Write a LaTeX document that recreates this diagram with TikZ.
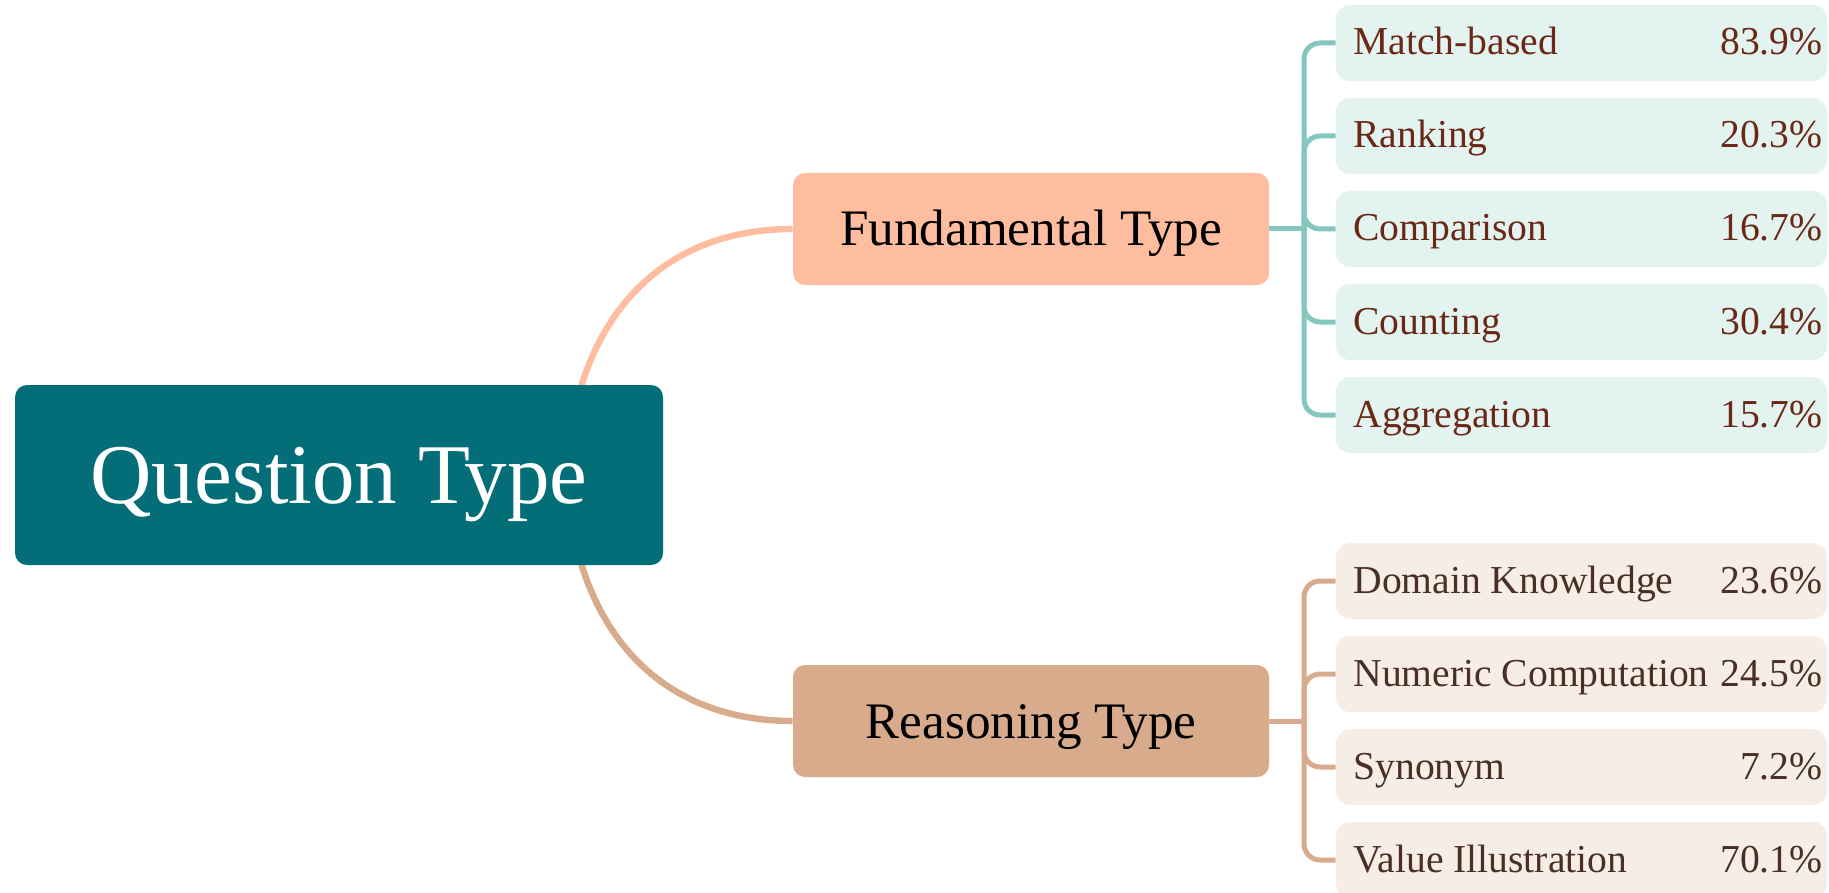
\documentclass[tikz,border=0pt]{standalone}
\usepackage{fontspec}
\setmainfont{Liberation Serif}
\usetikzlibrary{backgrounds}
\definecolor{qteal}{HTML}{046E78}
\definecolor{fundfill}{HTML}{FFBDA0}
\definecolor{reasfill}{HTML}{D8AB8D}
\definecolor{fundleaf}{HTML}{E3F3EF}
\definecolor{reasleaf}{HTML}{F6EDE6}
\definecolor{fundline}{HTML}{83C7BE}
\definecolor{fundtext}{HTML}{6B2817}
\definecolor{reastext}{HTML}{4A3024}
\begin{document}
\begin{tikzpicture}[x=0.5pt,y=-0.5pt,
  rootbox/.style={fill=qteal, rounded corners=6pt, minimum width=324pt,
    minimum height=90pt, inner sep=0pt},
  roottext/.style={anchor=base, inner sep=0pt, text=white,
    font=\fontsize{42.5}{48}\selectfont},
  branchbox/.style={rounded corners=6pt, minimum width=238pt,
    minimum height=56pt, inner sep=0pt},
  branchtext/.style={anchor=base, inner sep=0pt, text=black,
    font=\fontsize{25.6}{30}\selectfont},
  leafbox/.style={rounded corners=7pt, minimum width=245.5pt,
    minimum height=38pt, inner sep=0pt},
  leaflabel/.style={anchor=base west, inner sep=0pt,
    font=\fontsize{19.8}{23}\selectfont},
  leafpct/.style={anchor=base east, inner sep=0pt,
    font=\fontsize{19.8}{23}\selectfont},
  rootlink/.style={line width=3.2pt},
  stemlink/.style={line width=2.5pt},
  leaflink/.style={line width=2.5pt, rounded corners=8pt}
]
\useasboundingbox (0,0) rectangle (1829,893);
\clip (0,0) rectangle (1829,893);

% root and the two branches, captions set on their baselines
\node[rootbox] (root) at (339,475) {};
\node[roottext] (roott) at (339,503) {Question Type};
\node[branchbox, fill=fundfill] (fund) at (1031,229) {};
\node[branchtext] (fundt) at (1031,246) {Fundamental Type};
\node[branchbox, fill=reasfill] (reas) at (1031,721) {};
\node[branchtext] (reast) at (1031,738) {Reasoning Type};

\coordinate (rtop) at (580,390);
\coordinate (rbot) at (580,560);
\coordinate (ftrunk) at (1304,229);
\coordinate (rtrunk) at (1304,721);

% fundamental leaves
\foreach \n/\y/\lab/\pct in {f1/43/Match-based/83.9,
                              f2/136/Ranking/20.3,
                              f3/229/Comparison/16.7,
                              f4/322/Counting/30.4,
                              f5/415/Aggregation/15.7}{
  \node[leafbox, fill=fundleaf] (\n) at (1581.5,\y) {};
  \node[leaflabel, text=fundtext] (\n l) at (1353,\y+12) {\lab};
  \node[leafpct, text=fundtext] (\n p) at (1823,\y+12) {\pct\%};
}

% reasoning leaves
\foreach \n/\y/\lab/\pct in {r1/581/Domain Knowledge/23.6,
                              r2/674/Numeric Computation/24.5,
                              r3/767/Synonym/7.2,
                              r4/860/Value Illustration/70.1}{
  \node[leafbox, fill=reasleaf] (\n) at (1581.5,\y) {};
  \node[leaflabel, text=reastext] (\n l) at (1353,\y+12) {\lab};
  \node[leafpct, text=reastext] (\n p) at (1823,\y+12) {\pct\%};
}

\begin{pgfonlayer}{background}
  % curved links from the root
  \draw[rootlink, fundfill] (rtop) .. controls (612,283) and (690,229) .. (fund.west);
  \draw[rootlink, reasfill] (rbot) .. controls (612,667) and (690,721) .. (reas.west);
  % stems and elbow links to the leaves
  \draw[stemlink, fundline] (fund.east) -- (ftrunk);
  \draw[stemlink, reasfill] (reas.east) -- (rtrunk);
  \foreach \n in {f1,f2,f3,f4,f5}
    \draw[leaflink, fundline] (ftrunk) |- (\n.west);
  \foreach \n in {r1,r2,r3,r4}
    \draw[leaflink, reasfill] (rtrunk) |- (\n.west);
\end{pgfonlayer}
\end{tikzpicture}
\end{document}
